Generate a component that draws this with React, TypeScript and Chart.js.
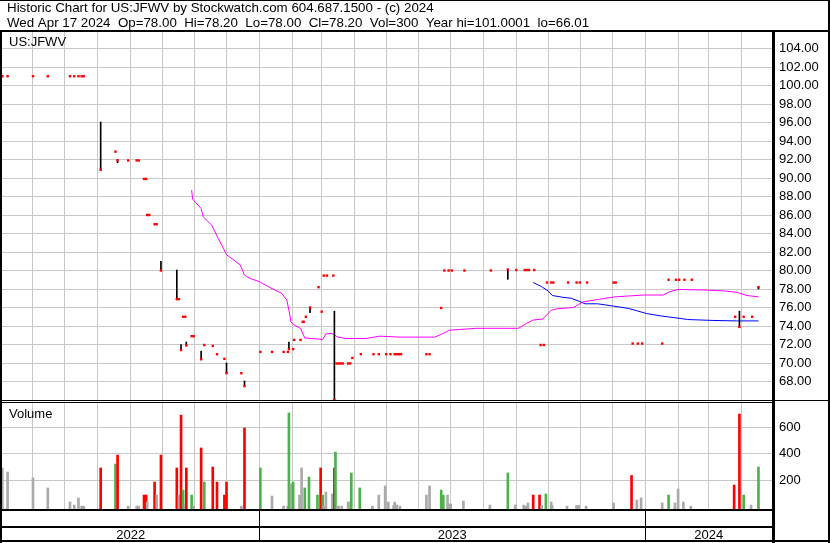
import React, { useEffect, useRef } from 'react';
import { Chart, registerables } from 'chart.js';

Chart.register(...registerables);

// All x values are calendar days counted from 2022-05-01 (day 0).
const monthStartDays = [31, 61, 92, 123, 153, 184, 214, 245, 276, 304, 335, 365, 396, 426, 457, 488, 518, 549, 579, 610, 641, 670, 701];
const yearLabels = ['2022', '2023', '2024'];
const yearStartDays = [0, 245, 610];

const priceTicks = [68, 70, 72, 74, 76, 78, 80, 82, 84, 86, 88, 90, 92, 94, 96, 98, 100, 102, 104];
const volumeTicks = [200, 400, 600];

const closeDays = [
  2, 7, 31, 45, 66, 70, 74, 77, 79, 95, 109, 111, 121, 129, 131, 136, 138, 139, 141, 146, 148,
  152, 167, 169, 171, 173, 175, 176, 181, 183, 190, 193, 201, 205, 212, 214, 228, 231,
  246, 257, 268, 272, 273, 277, 278, 284, 286, 287, 289, 293, 301, 304, 306, 309, 315, 316,
  318, 320, 322, 324, 329, 331, 333, 341, 353, 358, 365, 369, 373, 375, 377, 379, 403, 406,
  417, 420, 424, 427, 439, 464, 480, 488, 496, 498, 500, 505, 511, 514, 517, 521, 523, 537,
  545, 548, 555, 580, 582, 598, 603, 607, 626, 632, 639, 642, 647, 654, 695, 699, 703, 711, 717,
];
const closeValues = [
  101.0, 101.0, 101.0, 101.0, 101.0, 101.0, 101.0, 101.0, 101.0, 90.9, 92.85, 91.9, 91.9, 91.9, 91.9, 89.9, 89.9, 86.0, 86.0, 85.0, 85.0,
  80.0, 76.9, 76.9, 71.4, 75.0, 75.0, 71.9, 72.9, 72.9, 70.4, 71.95, 71.85, 70.95, 70.45, 68.9, 68.9, 67.5,
  71.2, 71.2, 71.2, 71.2, 71.5, 71.5, 72.5, 72.5, 74.45, 74.45, 75.0, 76.0, 78.2, 75.55, 79.45, 79.45, 79.45, 66.01,
  69.95, 69.95, 69.95, 69.95, 69.95, 69.95, 70.55, 70.95, 70.95, 70.95, 70.95, 70.95, 70.95, 70.95, 70.95, 70.95, 70.95, 70.95,
  75.95, 80.0, 80.0, 80.0, 80.0, 80.0, 80.1, 80.05, 80.05, 80.05, 80.05, 80.05, 71.95, 71.95, 78.7, 78.7, 78.7, 78.7,
  78.7, 78.7, 78.7, 78.7, 78.7, 72.1, 72.1, 72.1, 72.1, 79.0, 79.0, 79.0, 79.0, 79.0, 75.0, 73.9, 75.0, 75.0, 78.2,
];

const rangeDays = [95, 111, 152, 167, 171, 176, 190, 214, 231, 273, 293, 316, 480, 699, 717];
const rangeLows = [90.85, 91.65, 80.0, 76.9, 71.4, 71.9, 70.4, 68.9, 67.5, 71.5, 75.45, 66.01, 79.05, 73.85, 78.0];
const rangeHighs = [96.05, 92.0, 81.0, 80.05, 72.0, 72.27, 71.3, 70.0, 68.05, 72.25, 76.0, 75.6, 80.15, 75.6, 78.2];

const maShortDays = [
  181, 182, 190, 192, 200, 206, 211, 214, 220, 223, 227, 231, 236, 245, 256, 266, 271, 273, 275, 278, 284, 288,
  305, 308, 314, 319, 327, 346, 359, 378, 411, 417, 425, 450, 490, 498, 504, 513, 521, 526, 542, 546, 551,
  567, 581, 609, 627, 633, 641, 663, 684, 696, 706, 717,
];
const maShortValues = [
  88.7, 87.7, 86.7, 85.8, 84.9, 83.5, 82.4, 81.7, 81.2, 80.95, 80.6, 79.5, 79.15, 78.8, 78.1, 77.55, 76.8, 75.7, 74.45, 74.1, 73.75, 72.7,
  72.55, 73.15, 73.2, 72.8, 72.65, 72.65, 72.9, 72.8, 72.8, 73.1, 73.55, 73.75, 73.75, 74.3, 74.65, 74.75, 75.7, 75.85, 76.0, 76.25, 76.6,
  76.9, 77.15, 77.35, 77.35, 77.7, 77.95, 77.9, 77.8, 77.65, 77.3, 77.15,
];
const maLongDays = [504, 512, 518, 522, 532, 540, 548, 553, 565, 580, 594, 602, 611, 624, 641, 650, 674, 696, 717];
const maLongValues = [78.7, 78.25, 77.8, 77.3, 77.1, 77.0, 76.65, 76.4, 76.4, 76.15, 75.9, 75.65, 75.35, 75.1, 74.85, 74.7, 74.6, 74.55, 74.55];

const volumeDays = [
  2, 7, 31, 45, 66, 70, 74, 77, 79, 95, 109, 111, 121, 129, 131, 136, 138, 139, 146, 148, 152, 167, 169, 171, 173, 175, 176,
  181, 183, 190, 193, 201, 205, 212, 214, 228, 231, 246, 257, 268, 272, 273, 275, 277, 283, 285, 288, 292, 300, 303, 305,
  306, 308, 314, 316, 317, 319, 320, 323, 329, 330, 332, 340, 352, 358, 364, 367, 372, 373, 375, 378, 403, 406, 417, 419,
  423, 424, 426, 438, 463, 480, 487, 495, 497, 499, 504, 510, 512, 516, 521, 522, 536, 545, 547, 554, 580, 597, 602, 606,
  626, 632, 638, 641, 646, 653, 694, 699, 703, 710, 717,
];
const volumeValues = [
  293, 262, 217, 141, 34, 11, 65, 3, 3, 293, 323, 391, 3, 3, 3, 87, 87, 34, 186, 87, 391, 293, 87, 695, 125, 19, 293,
  87, 3, 445, 186, 300, 186, 87, 186, 3, 597, 293, 80, 3, 3, 711, 171, 186, 87, 293, 141, 224, 87, 293, 87,
  3, 110, 95, 293, 414, 3, 3, 3, 34, 34, 255, 141, 3, 87, 156, 34, 8, 34, 11, 3, 87, 156, 125, 87,
  87, 19, 19, 42, 11, 255, 11, 11, 3, 27, 87, 87, 8, 95, 34, 8, 3, 8, 8, 3, 27, 236, 49, 65,
  27, 87, 27, 133, 34, 3, 163, 703, 87, 11, 300,
];
// u = close up, d = close down, n = unchanged
const volumeDirs = [
  'n', 'n', 'n', 'n', 'n', 'n', 'n', 'n', 'n', 'd', 'u', 'd', 'n', 'n', 'n', 'd', 'd', 'n', 'd', 'n', 'd', 'd', 'n', 'd', 'u', 'n', 'd',
  'u', 'n', 'd', 'u', 'd', 'd', 'd', 'd', 'n', 'd', 'u', 'n', 'n', 'n', 'u', 'n', 'u', 'n', 'n', 'u', 'u', 'u', 'd', 'u',
  'n', 'n', 'n', 'd', 'u', 'n', 'n', 'n', 'n', 'n', 'u', 'u', 'n', 'n', 'n', 'n', 'n', 'n', 'n', 'n', 'n', 'n', 'u', 'u',
  'n', 'n', 'n', 'n', 'n', 'u', 'n', 'n', 'n', 'n', 'd', 'd', 'n', 'u', 'n', 'n', 'n', 'n', 'n', 'n', 'n', 'd', 'n', 'n',
  'n', 'u', 'n', 'n', 'n', 'n', 'd', 'd', 'u', 'n', 'u',
];

const headerLine1 = 'Historic Chart for US:JFWV by Stockwatch.com 604.687.1500 - (c) 2024';
const headerLine2 = 'Wed Apr 17 2024  Op=78.00  Hi=78.20  Lo=78.00  Cl=78.20  Vol=300  Year hi=101.0001  lo=66.01';
const symbolLabel = 'US:JFWV';
const volumeLabel = 'Volume';

const W = 830;
const H = 543;
const FONT = "'Liberation Sans', Arial, Helvetica, sans-serif";
const GRID = '#c8c8c8';
const X_MIN = 1.7;
const X_MAX = 729.8;

export default function App() {
  const ref = useRef<HTMLCanvasElement>(null);

  useEffect(() => {
    const canvas = ref.current;
    if (!canvas) return;

    const dirColor = (d: string) => (d === 'u' ? '#4cb34c' : d === 'd' ? '#ff0000' : '#aaaaaa');

    const framePlugin = {
      id: 'stockFrame',
      beforeDraw(chart: any) {
        const ctx = chart.ctx;
        ctx.save();
        ctx.fillStyle = '#fff';
        ctx.fillRect(0, 0, W, H);
        ctx.restore();
      },
      afterDraw(chart: any) {
        const ctx = chart.ctx;
        const a = chart.chartArea;
        const xs = chart.scales.x;
        const yp = chart.scales.y;
        const yv = chart.scales.yVol;
        const right = a.right;
        ctx.save();
        ctx.fillStyle = '#000';
        // outer frame and header separator
        ctx.fillRect(0, 0, W, 1);
        ctx.fillRect(0, 30, W, 2);
        ctx.fillRect(0, 30, 2, H - 30);
        ctx.fillRect(W - 2, 0, 2, H);
        ctx.fillRect(0, 540, W, 2);
        ctx.fillRect(right, 30, 3, H - 30);
        // price / volume separator
        ctx.fillRect(0, yv.top - 3, W, 1);
        ctx.fillRect(0, yv.top - 1, right, 1);
        // volume bottom and year band
        const vb = Math.round(yv.bottom);
        ctx.fillRect(0, vb, right + 3, 2);
        ctx.fillRect(0, vb + 17, right + 3, 2);

        ctx.font = `13px ${FONT}`;
        ctx.textBaseline = 'alphabetic';
        for (let i = 0; i < yearLabels.length; i++) {
          const s = Math.max(xs.getPixelForValue(yearStartDays[i]), a.left);
          const e = i + 1 < yearLabels.length ? xs.getPixelForValue(yearStartDays[i + 1]) : right;
          if (i > 0) ctx.fillRect(Math.round(s), vb, 1, 540 - vb);
          ctx.textAlign = 'center';
          ctx.fillText(yearLabels[i], (s + e) / 2, 539);
        }

        // header
        ctx.textAlign = 'left';
        ctx.font = `13.33px ${FONT}`;
        ctx.fillText(headerLine1, 7, 11.5);
        ctx.fillText(headerLine2, 7, 26.5);
        // panel captions
        ctx.font = `13px ${FONT}`;
        ctx.fillText(symbolLabel, 9, yp.top + 14);
        ctx.fillText(volumeLabel, 9, yv.top + 15);
        ctx.restore();
      },
    };

    const tickFont = { family: FONT, size: 13 };

    const chart = new Chart(canvas, {
      type: 'line',
      data: {
        datasets: [
          {
            type: 'line',
            label: 'Close',
            data: closeDays.map((d, i) => ({ x: d, y: closeValues[i] })),
            xAxisID: 'x',
            yAxisID: 'y',
            showLine: false,
            pointStyle: 'rect',
            pointRadius: 1.7,
            pointHoverRadius: 1.7,
            pointBorderWidth: 0,
            pointBackgroundColor: '#ff0000',
            borderColor: '#ff0000',
            backgroundColor: '#ff0000',
            order: 0,
          } as any,
          {
            type: 'bar',
            label: 'Range',
            data: rangeDays.map((d, i) => ({ x: d, y: [rangeLows[i], rangeHighs[i]] })),
            xAxisID: 'x',
            yAxisID: 'y',
            backgroundColor: '#000',
            borderWidth: 0,
            barThickness: 1,
            grouped: false,
            order: 1,
          } as any,
          {
            type: 'line',
            label: 'MA short',
            data: maShortDays.map((d, i) => ({ x: d, y: maShortValues[i] })),
            xAxisID: 'x',
            yAxisID: 'y',
            borderColor: '#ff00ff',
            borderWidth: 1,
            pointRadius: 0,
            tension: 0,
            fill: false,
            order: 2,
          } as any,
          {
            type: 'line',
            label: 'MA long',
            data: maLongDays.map((d, i) => ({ x: d, y: maLongValues[i] })),
            xAxisID: 'x',
            yAxisID: 'y',
            borderColor: '#0000ff',
            borderWidth: 1,
            pointRadius: 0,
            tension: 0,
            fill: false,
            order: 3,
          } as any,
          {
            type: 'bar',
            label: 'Volume',
            data: volumeDays.map((d, i) => ({ x: d, y: volumeValues[i] })),
            xAxisID: 'x',
            yAxisID: 'yVol',
            backgroundColor: volumeDirs.map(dirColor),
            borderWidth: 0,
            barThickness: 2,
            grouped: false,
            base: -19,
            order: 4,
          } as any,
        ],
      },
      options: {
        responsive: false,
        animation: false,
        devicePixelRatio: 1,
        events: [],
        layout: { padding: { left: 2, top: 32, right: 0, bottom: 34 } },
        plugins: {
          legend: { display: false },
          tooltip: { enabled: false },
          title: { display: false },
        },
        scales: {
          x: {
            type: 'linear',
            min: X_MIN,
            max: X_MAX,
            offset: false,
            grid: { color: GRID, lineWidth: 1, drawTicks: false, offset: false },
            border: { display: false },
            ticks: { display: false, autoSkip: false },
            afterBuildTicks: (s: any) => {
              s.ticks = monthStartDays.map((v) => ({ value: v }));
            },
            afterFit: (s: any) => {
              s.height = 0;
            },
          },
          y: {
            type: 'linear',
            position: 'right',
            stack: 'panels',
            stackWeight: 371,
            min: 65.676,
            max: 105.784,
            grid: { color: GRID, lineWidth: 1, drawTicks: false },
            border: { display: false },
            ticks: {
              padding: 7,
              color: '#000',
              font: tickFont,
              autoSkip: false,
              callback: (v: any) => Number(v).toFixed(2),
            },
            afterBuildTicks: (s: any) => {
              s.ticks = priceTicks.map((v) => ({ value: v }));
            },
            afterFit: (s: any) => {
              s.width = 58;
            },
          },
          yVol: {
            type: 'linear',
            position: 'right',
            stack: 'panels',
            stackWeight: 106,
            min: -19,
            max: 787,
            grid: { color: GRID, lineWidth: 1, drawTicks: false },
            border: { display: false },
            ticks: {
              padding: 7,
              color: '#000',
              font: tickFont,
              autoSkip: false,
              callback: (v: any) => String(v),
            },
            afterBuildTicks: (s: any) => {
              s.ticks = volumeTicks.map((v) => ({ value: v }));
            },
            afterFit: (s: any) => {
              s.width = 58;
            },
          },
        },
      } as any,
      plugins: [framePlugin],
    });

    return () => chart.destroy();
  }, []);

  return (
    <div style={{ position: 'fixed', left: 0, top: 0, width: W, height: H, background: '#fff' }}>
      <canvas ref={ref} width={W} height={H} style={{ display: 'block', width: W, height: H }} />
    </div>
  );
}
